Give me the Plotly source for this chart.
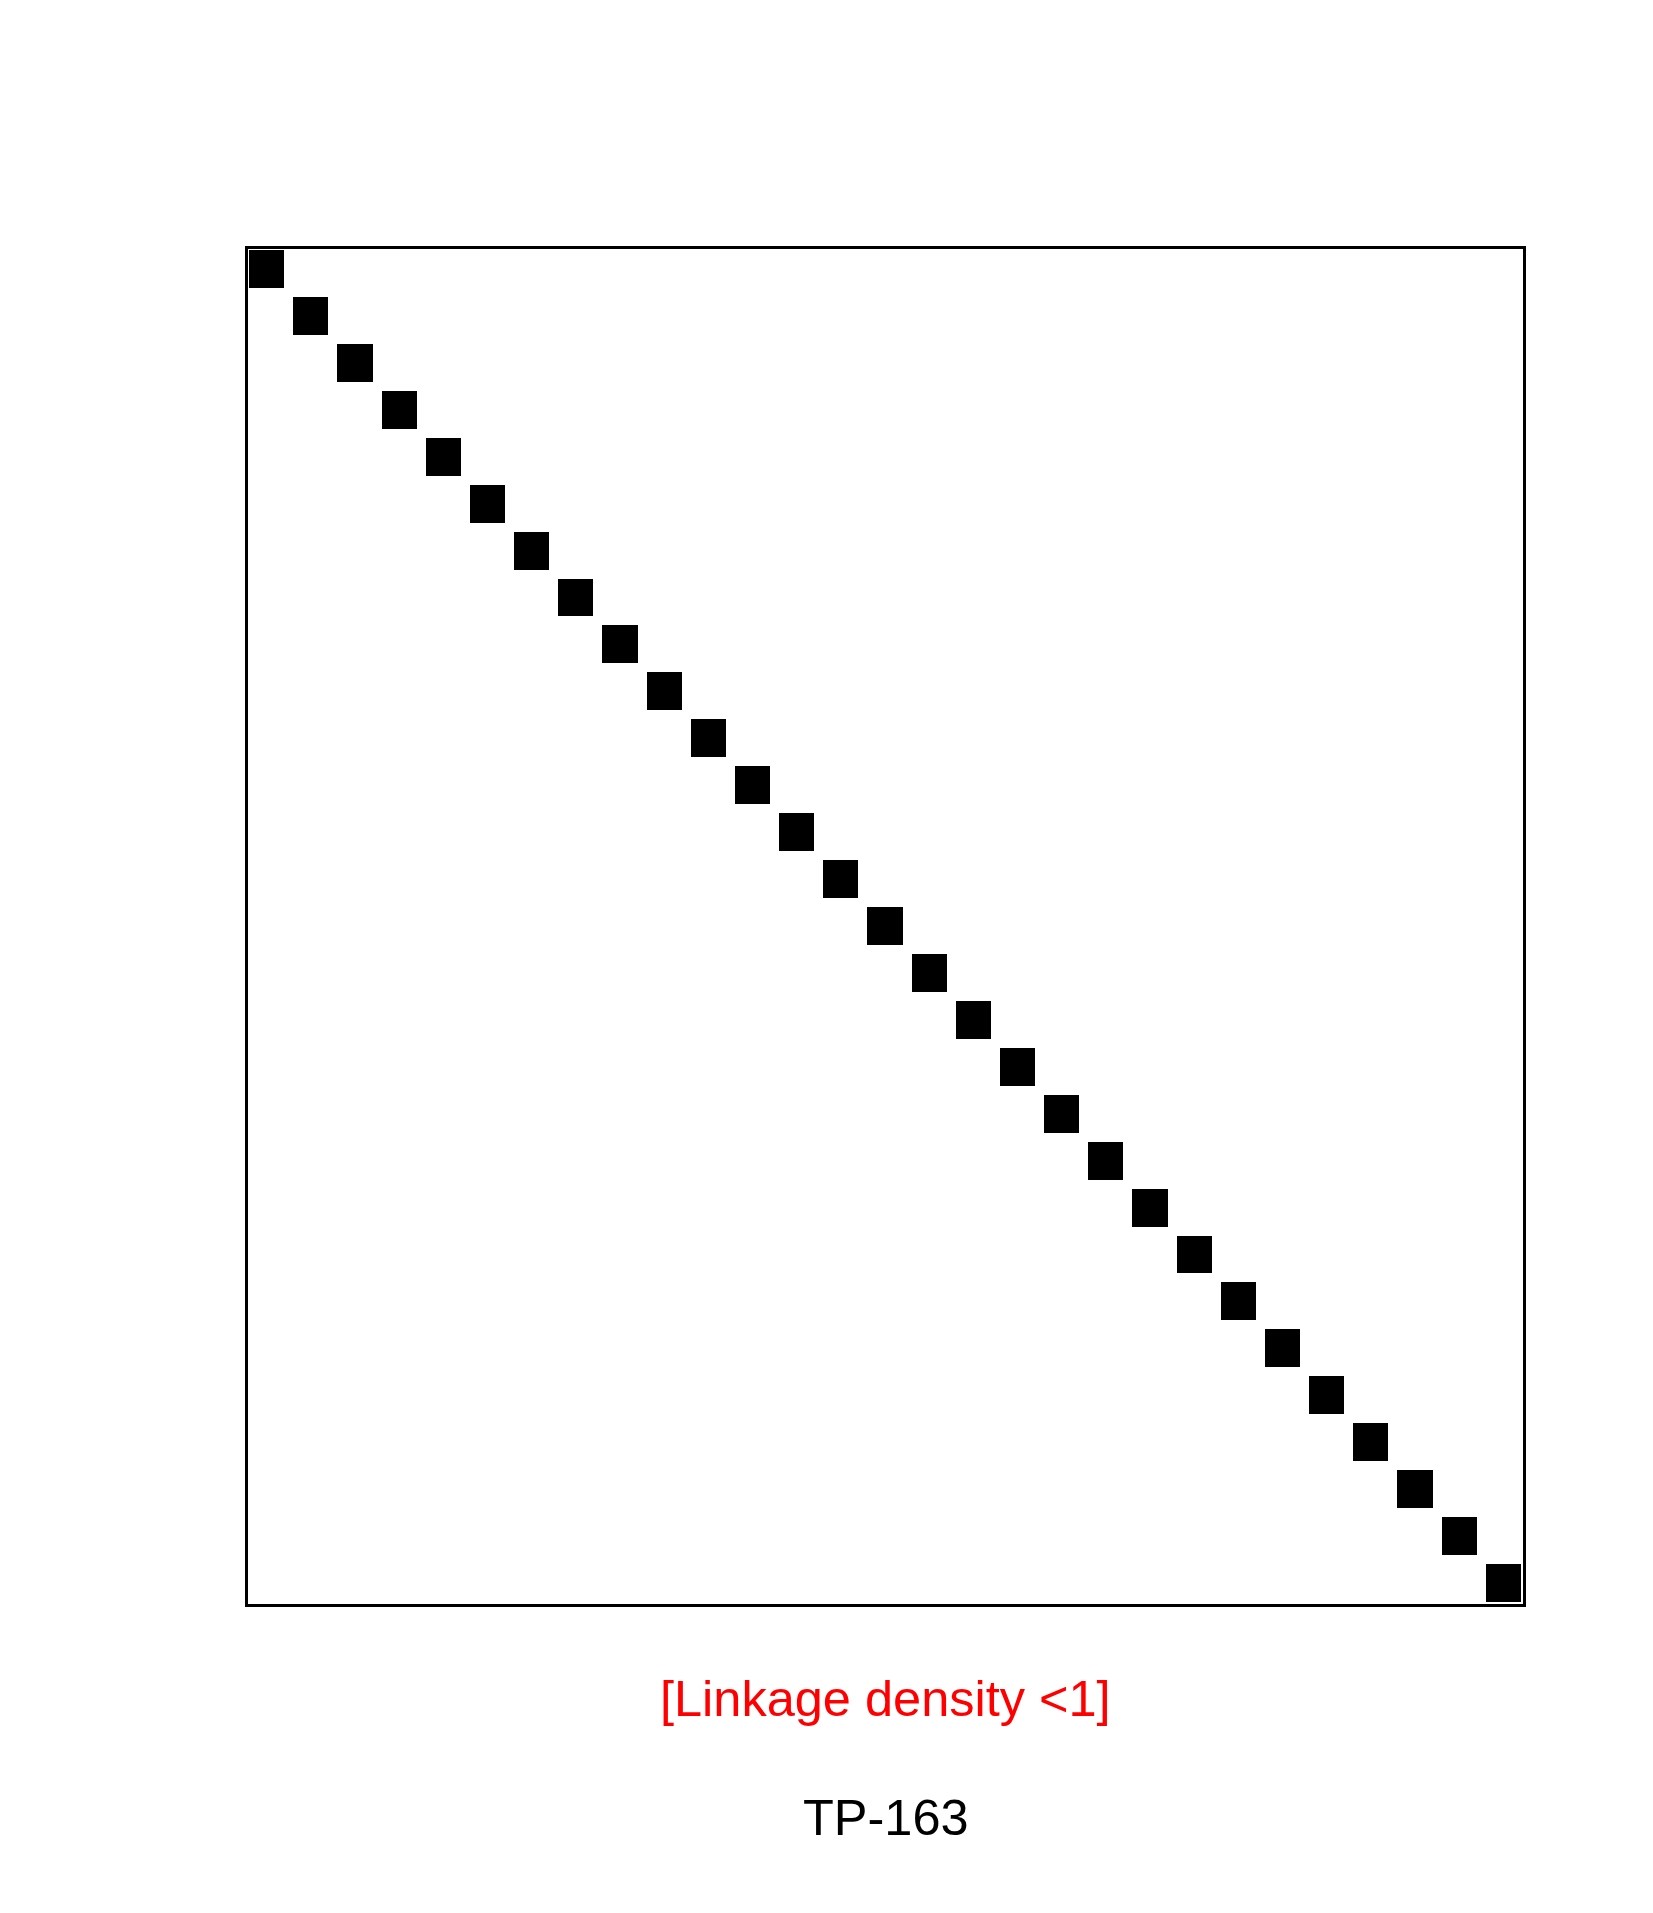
import plotly.graph_objects as go

# interaction web: 29 lower-level x 29 higher-level species, one link each
n_species = 29
link_rows = list(range(1, 30))
link_cols = list(range(1, 30))
link_weights = [1] * 29

label_density = "[Linkage density <1]"
label_web = "TP-163"

z = [[None] * n_species for _ in range(n_species)]
for r, c, w in zip(link_rows, link_cols, link_weights):
    z[r - 1][c - 1] = w

fig = go.Figure()

fig.add_trace(
    go.Heatmap(
        x=list(range(1, n_species + 1)),
        y=list(range(1, n_species + 1)),
        z=z,
        colorscale=[[0, "black"], [1, "black"]],
        showscale=False,
        xgap=9,
        ygap=9,
        hoverinfo="skip",
    )
)

# box around the web, drawn just inside the plotting area
plot_w, plot_h = 1281, 1361
fig.add_shape(
    type="rect", xref="paper", yref="paper",
    x0=1.5 / plot_w, x1=1 - 1.5 / plot_w,
    y0=1.5 / plot_h, y1=1 - 1.5 / plot_h,
    line=dict(color="black", width=3),
)

fig.add_annotation(
    text=label_density, x=0.5, y=-0.0669, xref="paper", yref="paper",
    xanchor="center", yanchor="middle", showarrow=False,
    font=dict(family="Liberation Sans, Arial", size=50.5, color="#ff0000"),
)
fig.add_annotation(
    text=label_web, x=0.5, y=-0.155, xref="paper", yref="paper",
    xanchor="center", yanchor="middle", showarrow=False,
    font=dict(family="Liberation Sans, Arial", size=50.5, color="black"),
)

axis_style = dict(
    showgrid=False, zeroline=False, showticklabels=False, ticks="",
    showline=False,
)
fig.update_xaxes(range=[0.5, n_species + 0.5], **axis_style)
fig.update_yaxes(range=[n_species + 0.5, 0.5], **axis_style)

fig.update_layout(
    width=1637,
    height=1897,
    margin=dict(l=237, r=1637 - 237 - plot_w, t=238, b=1897 - 238 - plot_h),
    paper_bgcolor="white",
    plot_bgcolor="white",
    showlegend=False,
)

fig.write_html("out.html")
